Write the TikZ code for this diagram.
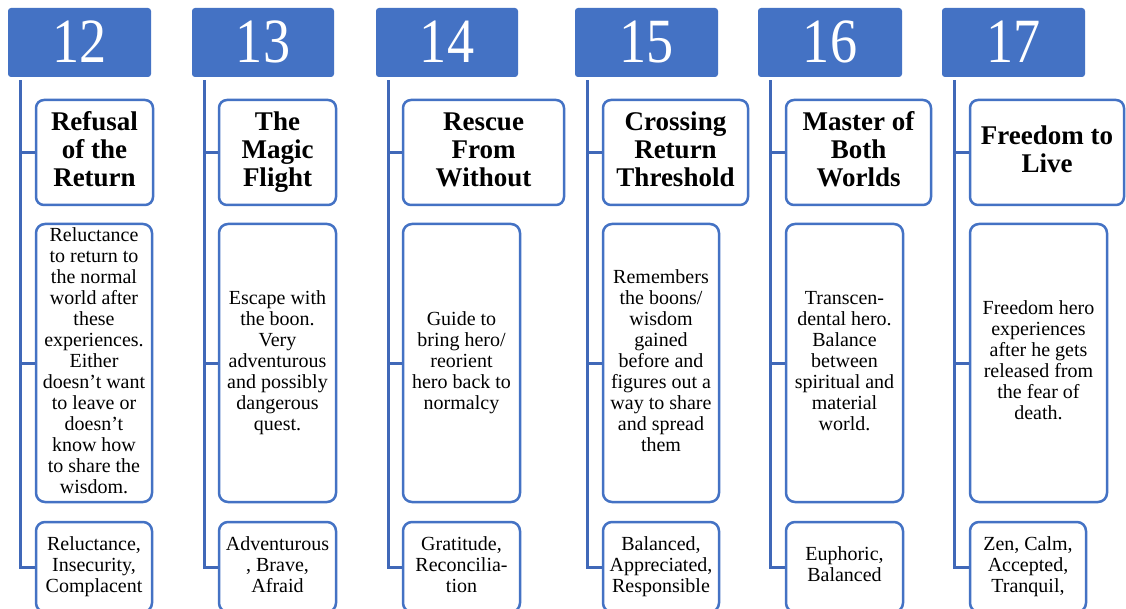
\documentclass[tikz,border=0pt]{standalone}
\usepackage{fontspec}
\setmainfont{Liberation Serif}
\usetikzlibrary{calc}
\definecolor{hdr}{HTML}{4472C4}
\definecolor{ln}{HTML}{4068B8}
\newcommand{\hnum}[1]{\raisebox{2pt}{\scalebox{0.86}[1]{#1}}}
\begin{document}
\begin{tikzpicture}[x=1pt,y=-1pt,
  hdrbox/.style={fill=hdr, rounded corners=3pt, inner sep=0pt, text=white,
    minimum height=69pt, font=\fontsize{63}{63}\selectfont},
  titlebox/.style={draw=hdr, line width=2.5pt, rounded corners=8pt, fill=white,
    inner sep=0pt, align=center, minimum height=105pt,
    font=\bfseries\fontsize{27}{28}\selectfont},
  descbox/.style={draw=hdr, line width=2.5pt, rounded corners=9pt, fill=white,
    inner sep=0pt, align=center, minimum height=278pt,
    font=\fontsize{20}{21}\selectfont},
  botbox/.style={draw=hdr, line width=2.5pt, rounded corners=9pt, fill=white,
    inner sep=0pt, align=center, minimum height=90pt,
    font=\fontsize{20}{21}\selectfont},
  conn/.style={draw=ln, line width=3pt}]
\useasboundingbox (0,0) rectangle (1126,609);
\clip (0,0) rectangle (1126,609);
\fill[white] (0,0) rectangle (1126,609);

% ---------- column 12
\node[hdrbox, minimum width=143pt] (h12) at (79.5,42.5) {\hnum{12}};
\node[titlebox, minimum width=117pt] (t12) at (94.5,152.5) {\strut Refusal\\of the\\Return\strut};
\node[descbox, minimum width=116pt] (d12) at (94,363) {\strut Reluctance\\to return to\\the normal\\world after\\these\\experiences.\\Either\\doesn't want\\to leave or\\doesn't\\know how\\to share the\\wisdom.\strut};
\node[botbox, minimum width=116pt] (b12) at (94,567) {\strut Reluctance,\\Insecurity,\\Complacent\strut};
% ---------- column 13
\node[hdrbox, minimum width=142pt] (h13) at (263,42.5) {\hnum{13}};
\node[titlebox, minimum width=117pt] (t13) at (277.5,152.5) {\strut The\\Magic\\Flight\strut};
\node[descbox, minimum width=117pt] (d13) at (277.5,363) {\strut Escape with\\the boon.\\Very\\adventurous\\and possibly\\dangerous\\quest.\strut};
\node[botbox, minimum width=117pt] (b13) at (277.5,567) {\strut Adventurous\\, Brave,\\Afraid\strut};
% ---------- column 14
\node[hdrbox, minimum width=142pt] (h14) at (447,42.5) {\hnum{14}};
\node[titlebox, minimum width=161pt] (t14) at (483.5,152.5) {\strut Rescue\\From\\Without\strut};
\node[descbox, minimum width=117pt] (d14) at (461.5,363) {\strut Guide to\\bring hero/\\reorient\\hero back to\\normalcy\strut};
\node[botbox, minimum width=117pt] (b14) at (461.5,567) {\strut Gratitude,\\Reconcilia-\\tion\strut};
% ---------- column 15
\node[hdrbox, minimum width=143pt] (h15) at (646.5,42.5) {\hnum{15}};
\node[titlebox, minimum width=145pt] (t15) at (675.5,152.5) {\strut Crossing\\Return\\Threshold\strut};
\node[descbox, minimum width=116pt] (d15) at (661,363) {\strut Remembers\\the boons/\\wisdom\\gained\\before and\\figures out a\\way to share\\and spread\\them\strut};
\node[botbox, minimum width=116pt] (b15) at (661,567) {\strut Balanced,\\Appreciated,\\Responsible\strut};
% ---------- column 16
\node[hdrbox, minimum width=144pt] (h16) at (830,42.5) {\hnum{16}};
\node[titlebox, minimum width=145pt] (t16) at (858.5,152.5) {\strut Master of\\Both\\Worlds\strut};
\node[descbox, minimum width=117pt] (d16) at (844.5,363) {\strut Transcen-\\dental hero.\\Balance\\between\\spiritual and\\material\\world.\strut};
\node[botbox, minimum width=117pt] (b16) at (844.5,567) {\strut Euphoric,\\Balanced\strut};
% ---------- column 17
\node[hdrbox, minimum width=143pt] (h17) at (1013.5,42.5) {\hnum{17}};
\node[titlebox, minimum width=154pt] (t17) at (1047,152.5) {\strut Freedom to\\Live\strut};
\node[descbox, minimum width=137pt] (d17) at (1038.5,363) {\strut Freedom hero\\experiences\\after he gets\\released from\\the fear of\\death.\strut};
\node[botbox, minimum width=116pt] (b17) at (1028,567) {\strut Zen, Calm,\\Accepted,\\Tranquil,\strut};

% ---------- connectors
\foreach \c in {12,13,14,15,16,17}{
  \coordinate (s\c) at ($(h\c.south west)+(13,3)$);
  \draw[conn] (s\c) |- (b\c.west);
  \draw[conn] (s\c |- t\c.west) -- (t\c.west);
  \draw[conn] (s\c |- d\c.west) -- (d\c.west);
}
\end{tikzpicture}
\end{document}
